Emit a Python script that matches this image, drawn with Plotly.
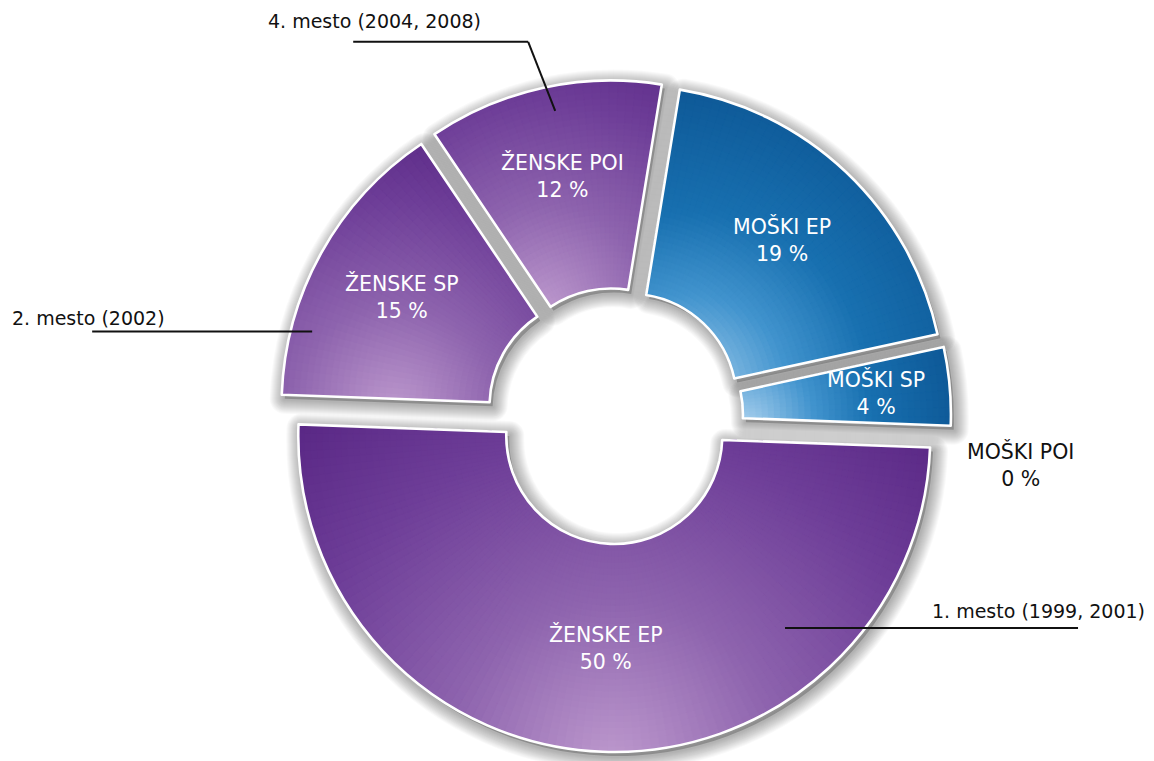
import math
import plotly.graph_objects as go

# ---- data -----------------------------------------------------------------
categories = ["MOŠKI EP", "MOŠKI SP", "MOŠKI POI", "ŽENSKE EP", "ŽENSKE SP", "ŽENSKE POI"]
shares = [19, 4, 0, 50, 15, 12]
callout_categories = ["ŽENSKE EP", "ŽENSKE SP", "ŽENSKE POI"]
callout_texts = ["1. mesto (1999, 2001)", "2. mesto (2002)", "4. mesto (2004, 2008)"]

# ---- layout / style ---------------------------------------------------------
W, H = 1154, 761
CX, CY = 615.0, 416.0          # pie centre (px)
R_OUT, R_IN = 316.0, 108.0     # outer / inner radius (px)
PULL_PX = 20.0                 # explode distance of every slice (px)
START_DEG = 9.3                # first slice starts here, clockwise from 12 o'clock
N_RINGS = 34                   # radial steps of the shading
ANG_STEP = 1.6                 # angular step of the shading (deg)
FONT = "DejaVu Sans"
TRANSPARENT = "rgba(0,0,0,0)"
LABEL_SIZE = 20.5
CALLOUT_SIZE = 19

PURPLE = [(0.0, (190, 154, 206)), (0.35, (142, 100, 174)), (0.7, (110, 62, 152)), (1.0, (88, 38, 132))]
BLUE = [(0.0, (168, 208, 238)), (0.3, (66, 148, 206)), (0.55, (24, 112, 176)), (1.0, (12, 84, 146))]

SLICE_STYLE = {
    "MOŠKI EP":   dict(stops=BLUE,   focus=(690, 395), reach=330, label_r=222),
    "MOŠKI SP":   dict(stops=BLUE,   focus=(745, 425), reach=230, label_r=242),
    "ŽENSKE EP":  dict(stops=PURPLE, focus=(612, 765), reach=470, label_r=212),
    "ŽENSKE SP":  dict(stops=PURPLE, focus=(395, 412), reach=300, label_r=224),
    "ŽENSKE POI": dict(stops=PURPLE, focus=(545, 312), reach=300, label_r=226),
}

# callout: anchor inside the slice (radius, fraction of the slice's sweep),
# then the leader legs (px offsets), then the text offset from the last point
CALLOUT_STYLE = {
    "ŽENSKE EP":  dict(r=257, frac=0.257, legs=[(293, 0)], text=(69, -17), side="right"),
    "ŽENSKE SP":  dict(r=295, frac=0.233, legs=[(-220, 0)], text=(-82, -14), side="left"),
    "ŽENSKE POI": dict(r=291, frac=0.53, legs=[(-27, -69), (-175, 0)], text=(-87, -21), side="left"),
}

# blurred drop shadow: many faint strokes of decreasing width
SHADOW_OFFSET = (3, 4)
SHADOW_STROKES = [(w, 0.022) for w in range(30, 3, -2)]
SHADOW_FILL = "rgba(30,30,30,0.25)"


def px2paper(x, y):
    return x / W, 1 - y / H


def polar(origin, r, deg):
    a = math.radians(deg)
    return origin[0] + r * math.sin(a), origin[1] - r * math.cos(a)


def domain(cx, cy, r):
    return dict(x=[(cx - r) / W, (cx + r) / W], y=[1 - (cy + r) / H, 1 - (cy - r) / H])


def lerp_stops(stops, t):
    t = min(max(t, 0.0), 1.0)
    for (t0, c0), (t1, c1) in zip(stops[:-1], stops[1:]):
        if t <= t1:
            f = (t - t0) / (t1 - t0)
            c = [round(a + (b - a) * f) for a, b in zip(c0, c1)]
            return "rgb(%d,%d,%d)" % tuple(c)
    return "rgb(%d,%d,%d)" % stops[-1][1]


total = float(sum(shares))
geo = {}
acc = 0.0
for cat, v in zip(categories, shares):
    a0 = START_DEG + 360.0 * acc / total
    a1 = a0 + 360.0 * v / total
    mid = (a0 + a1) / 2
    geo[cat] = dict(value=v, a0=a0, a1=a1, mid=mid, apex=polar((CX, CY), PULL_PX, mid))
    acc += v

fig = go.Figure()
common = dict(direction="clockwise", sort=False, textinfo="none", hoverinfo="skip", showlegend=False)

# soft drop shadow under every slice
for cat, g in geo.items():
    v = g["value"]
    if v <= 0:
        continue
    sx, sy = g["apex"][0] + SHADOW_OFFSET[0], g["apex"][1] + SHADOW_OFFSET[1]
    for w, a in SHADOW_STROKES:
        fig.add_trace(go.Pie(
            values=[v, total - v], rotation=g["a0"], hole=R_IN / R_OUT,
            domain=domain(sx, sy, R_OUT),
            marker=dict(colors=[TRANSPARENT, TRANSPARENT],
                        line=dict(color=["rgba(0,0,0,%.3f)" % a, TRANSPARENT], width=[w, 0])),
            **common))
    fig.add_trace(go.Pie(
        values=[v, total - v], rotation=g["a0"], hole=R_IN / R_OUT,
        domain=domain(sx, sy, R_OUT),
        marker=dict(colors=[SHADOW_FILL, TRANSPARENT], line=dict(width=0)),
        **common))

# shaded slices: concentric rings, each split into thin wedges
for cat, g in geo.items():
    v = g["value"]
    if v <= 0:
        continue
    st = SLICE_STYLE[cat]
    span = g["a1"] - g["a0"]
    n = max(2, int(round(span / ANG_STEP)))
    sub = [v / n] * n
    for k in range(N_RINGS - 1, -1, -1):
        r_k = R_IN + (R_OUT - R_IN) * (k + 1) / N_RINGS
        r_mid = R_IN + (R_OUT - R_IN) * (k + 0.5) / N_RINGS
        cols = []
        for j in range(n):
            ang = g["a0"] + (j + 0.5) * span / n
            x, y = polar(g["apex"], r_mid, ang)
            d = math.hypot(x - st["focus"][0], y - st["focus"][1])
            cols.append(lerp_stops(st["stops"], d / st["reach"]))
        fig.add_trace(go.Pie(
            values=sub + [total - v], rotation=g["a0"], hole=R_IN / r_k,
            domain=domain(g["apex"][0], g["apex"][1], r_k),
            marker=dict(colors=cols + [TRANSPARENT],
                        line=dict(color=cols + [TRANSPARENT], width=[1.0] * n + [0])),
            **common))

# white rim around every slice
for cat, g in geo.items():
    v = g["value"]
    if v <= 0:
        continue
    fig.add_trace(go.Pie(
        values=[v, total - v], rotation=g["a0"], hole=R_IN / R_OUT,
        domain=domain(g["apex"][0], g["apex"][1], R_OUT),
        marker=dict(colors=[TRANSPARENT, TRANSPARENT],
                    line=dict(color=["white", TRANSPARENT], width=[2.6, 0])),
        **common))

annotations = []
shapes = []

# slice labels
for cat, g in geo.items():
    v = g["value"]
    text = "%s<br>%d %%" % (cat, v)
    if v > 0:
        x, y = polar(g["apex"], SLICE_STYLE[cat]["label_r"], g["mid"])
        xp, yp = px2paper(x, y)
        annotations.append(dict(x=xp, y=yp, xref="paper", yref="paper", text=text,
                                showarrow=False, xanchor="center", yanchor="middle",
                                font=dict(family=FONT, size=LABEL_SIZE, color="white")))
    else:
        x, y = polar(g["apex"], R_OUT + 70, g["mid"])
        xp, yp = px2paper(x, y + 6)
        annotations.append(dict(x=xp, y=yp, xref="paper", yref="paper", text=text,
                                showarrow=False, xanchor="center", yanchor="top",
                                font=dict(family=FONT, size=LABEL_SIZE, color="#111111")))

# placing call-outs with leader lines
for cat, txt in zip(callout_categories, callout_texts):
    g = geo[cat]
    cs = CALLOUT_STYLE[cat]
    ang = g["a0"] + cs["frac"] * (g["a1"] - g["a0"])
    pts = [polar(g["apex"], cs["r"], ang)]
    for dx, dy in cs["legs"]:
        pts.append((pts[-1][0] + dx, pts[-1][1] + dy))
    for p, q in zip(pts[:-1], pts[1:]):
        x0, y0 = px2paper(*p)
        x1, y1 = px2paper(*q)
        shapes.append(dict(type="line", xref="paper", yref="paper", x0=x0, y0=y0, x1=x1, y1=y1,
                           line=dict(color="#111111", width=2)))
    tx, ty = pts[-1][0] + cs["text"][0], pts[-1][1] + cs["text"][1]
    xp, yp = px2paper(tx, ty)
    annotations.append(dict(x=xp, y=yp, xref="paper", yref="paper", text=txt, showarrow=False,
                            xanchor=cs["side"], yanchor="middle",
                            font=dict(family=FONT, size=CALLOUT_SIZE, color="#111111")))

fig.update_layout(
    width=W, height=H,
    margin=dict(l=0, r=0, t=0, b=0),
    paper_bgcolor="white", plot_bgcolor="white",
    annotations=annotations, shapes=shapes,
)

fig.write_html("out.html")
